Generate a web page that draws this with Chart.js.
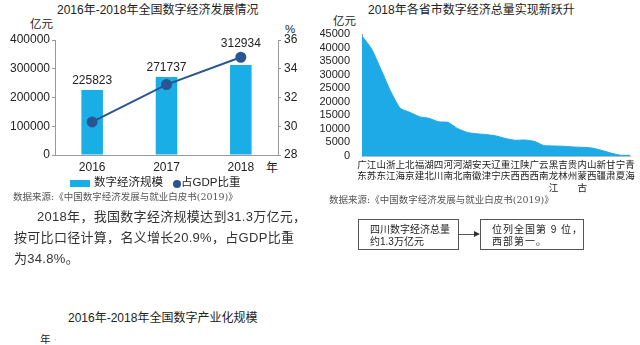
<!DOCTYPE html>
<html>
<head>
<meta charset="utf-8">
<script src="https://cdn.jsdelivr.net/npm/chart.js@4"></script>
<style>
    body { margin: 0; background: #fff; font-family: "Liberation Sans", "Noto Sans CJK SC", sans-serif; color: #222; }
    #page { position: relative; width: 640px; height: 345px; overflow: hidden; }
    .abs { position: absolute; white-space: nowrap; line-height: 1; }
    canvas { position: absolute; }
    .src { font-family: "DejaVu Serif", "Noto Sans CJK SC", serif; font-size: 9.5px; color: #555; }
    .para { font-size: 13px; color: #333; letter-spacing: 0.3px; }
    .box { position: absolute; border: 1px solid #555; font-size: 10px; line-height: 12px; padding: 4px 0 0 11px; box-sizing: border-box; white-space: nowrap; }
</style>
</head>
<body>
<div id="page">
    <div class="abs" style="left:57px;top:4px;font-size:12px;">2016年-2018年全国数字经济发展情况</div>
    <div class="abs" style="left:30px;top:19px;font-size:11.5px;">亿元</div>
    <div class="abs" style="left:285px;top:24px;font-size:11.5px;">%</div>
    <div class="abs" style="left:266px;top:162px;font-size:12px;">年</div>
    <canvas id="econChart" width="320" height="176" style="left:0;top:0;"></canvas>
    <div class="abs" style="left:70px;top:180px;width:20px;height:7px;background:#1aaee6;"></div>
    <div class="abs" style="left:94px;top:177px;font-size:11.5px;">数字经济规模</div>
    <div class="abs" style="left:173px;top:180px;width:8px;height:8px;border-radius:50%;background:#2a5592;"></div>
    <div class="abs" style="left:181px;top:177px;font-size:11.5px;">占GDP比重</div>
    <div class="abs src" style="left:13px;top:192px;">数据来源:《中国数字经济发展与就业白皮书(2019)》</div>
    <div class="abs para" style="left:37px;top:210px;">2018年，我国数字经济规模达到31.3万亿元，</div>
    <div class="abs para" style="left:14px;top:231px;">按可比口径计算，名义增长20.9%，占GDP比重</div>
    <div class="abs para" style="left:14px;top:252px;">为34.8%。</div>
    <div class="abs" style="left:68px;top:312px;font-size:12px;">2016年-2018年全国数字产业化规模</div>
    <div class="abs" style="left:40px;top:334px;font-size:10.5px;">年 <span style="color:#bbb;">·</span></div>

    <div class="abs" style="left:368px;top:4px;font-size:12px;">2018年各省市数字经济总量实现新跃升</div>
    <div class="abs" style="left:333px;top:16px;font-size:11.5px;">亿元</div>
    <canvas id="provChart" width="320" height="196" style="left:320px;top:0;"></canvas>
    <div class="abs src" style="left:329px;top:195px;">数据来源:《中国数字经济发展与就业白皮书(2019)》</div>
    <div class="box" style="left:358px;top:219px;width:101px;height:31px;">四川数字经济总量<br>约1.3万亿元</div>
    <div class="abs" style="left:459px;top:234px;width:16px;height:1px;background:#555;"></div>
    <div class="abs" style="left:474px;top:231px;width:0;height:0;border-top:3px solid transparent;border-bottom:3px solid transparent;border-left:6px solid #333;"></div>
    <div class="box" style="left:480px;top:219px;width:104px;height:31px;letter-spacing:1px;">位列全国第 9 位，<br>西部第一。</div>
</div>

<script>
// national digital economy
const years = ['2016', '2017', '2018'];
const scaleValues = [225823, 271737, 312934];
const gdpShare = [30.3, 32.9, 34.8];

// provinces 2018
const provinces = [
    ['广', '东'], ['江', '苏'], ['山', '东'], ['浙', '江'], ['上', '海'], ['北', '京'],
    ['福', '建'], ['湖', '北'], ['四', '川'], ['河', '南'], ['河', '北'], ['湖', '南'],
    ['安', '徽'], ['天', '津'], ['辽', '宁'], ['重', '庆'], ['江', '西'], ['陕', '西'],
    ['广', '西'], ['云', '南'], ['黑', '龙', '江'], ['吉', '林'], ['贵', '州'],
    ['内', '蒙', '古'], ['山', '西'], ['新', '疆'], ['甘', '肃'], ['宁', '夏'], ['青', '海']
];
const provinceValues = [
    44300, 39500, 31800, 23800, 17600, 16100,
    14500, 13900, 12600, 12400, 10100, 8700,
    8200, 7900, 7400, 6450, 5800, 5900,
    5400, 3850, 3700, 3600, 3350,
    3200, 2950, 2100, 1100, 300, 250
];

const FONT = "'Liberation Sans', 'Noto Sans CJK SC', sans-serif";
const TEXT = '#222';
const AXIS = '#999';
const plain = v => String(v); // no thousands separators

// labels over the bars (or over the point when it is higher)
const valueLabels = {
    id: 'valueLabels',
    afterDatasetsDraw(chart) {
        const ctx = chart.ctx;
        const bars = chart.getDatasetMeta(0).data;
        const pts = chart.getDatasetMeta(1).data;
        ctx.save();
        ctx.font = '12px ' + FONT;
        ctx.fillStyle = TEXT;
        ctx.textAlign = 'center';
        ctx.textBaseline = 'bottom';
        bars.forEach((bar, i) => {
            const top = Math.min(bar.y, pts[i].y - 5);
            ctx.fillText(scaleValues[i], bar.x, top - 3);
        });
        ctx.restore();
    }
};

new Chart(document.getElementById('econChart'), {
    type: 'bar',
    data: {
        labels: years,
        datasets: [{
            label: '数字经济规模',
            data: scaleValues,
            backgroundColor: '#1aaee6',
            barPercentage: 0.29,
            categoryPercentage: 1,
            yAxisID: 'y',
            order: 2
        }, {
            type: 'line',
            label: '占GDP比重',
            data: gdpShare,
            borderColor: '#2a5592',
            backgroundColor: '#2a5592',
            borderWidth: 2,
            pointRadius: 4.5,
            pointBackgroundColor: '#2a5592',
            yAxisID: 'y1',
            order: 1
        }]
    },
    options: {
        responsive: false,
        animation: false,
        layout: { padding: { top: 40, left: 0, right: 0, bottom: 0 } },
        plugins: { legend: { display: false }, title: { display: false }, tooltip: { enabled: false } },
        scales: {
            x: {
                grid: { display: false, drawTicks: false },
                border: { color: AXIS },
                ticks: { color: TEXT, font: { size: 12, family: FONT }, padding: 5 },
                afterFit: s => { s.height = 21; }
            },
            y: {
                position: 'left',
                min: 0, max: 400000,
                ticks: { stepSize: 100000, color: TEXT, font: { size: 12, family: FONT }, padding: 2, callback: plain },
                grid: { drawOnChartArea: false, tickLength: 3, color: AXIS },
                border: { color: AXIS },
                afterFit: s => { s.width = 55; }
            },
            y1: {
                position: 'right',
                min: 28, max: 36,
                ticks: { stepSize: 2, color: TEXT, font: { size: 12, family: FONT }, padding: 3 },
                grid: { drawOnChartArea: false, tickLength: 3, color: AXIS },
                border: { color: AXIS },
                afterFit: s => { s.width = 42; }
            }
        }
    },
    plugins: [valueLabels]
});

new Chart(document.getElementById('provChart'), {
    type: 'line',
    data: {
        labels: provinces,
        datasets: [{
            label: '数字经济总量',
            data: provinceValues,
            fill: 'origin',
            backgroundColor: '#1eaae6',
            borderColor: '#1eaae6',
            borderWidth: 1,
            pointRadius: 0,
            tension: 0.2
        }]
    },
    options: {
        responsive: false,
        animation: false,
        layout: { padding: { top: 34, left: 0, right: 10, bottom: 0 } },
        plugins: { legend: { display: false }, tooltip: { enabled: false } },
        scales: {
            x: {
                offset: false,
                grid: { display: false, drawTicks: false },
                border: { color: '#bbb' },
                ticks: {
                    color: TEXT, font: { size: 9.5, family: FONT, lineHeight: 1.25 },
                    autoSkip: false, maxRotation: 0, minRotation: 0, padding: 3
                },
                afterFit: s => { s.height = 40; }
            },
            y: {
                min: 0, max: 45000,
                ticks: { stepSize: 5000, autoSkip: false, color: TEXT, font: { size: 11, family: FONT }, padding: 4, callback: plain },
                grid: { display: false },
                border: { color: AXIS },
                afterFit: s => { s.width = 42; }
            }
        }
    }
});
</script>
</body>
</html>
